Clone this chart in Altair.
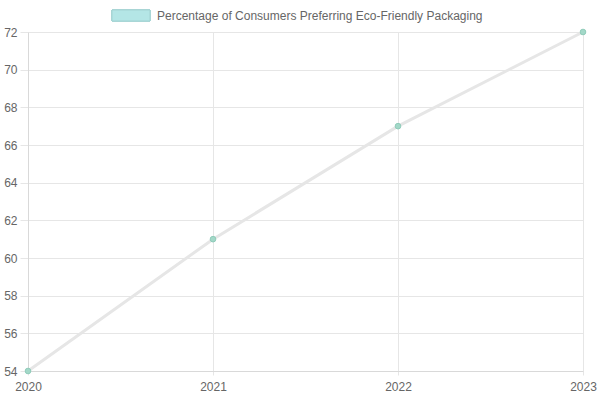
import altair as alt
import pandas as pd

years = ["2020", "2021", "2022", "2023"]
share = [54, 61, 67, 72]
series_name = "Percentage of Consumers Preferring Eco-Friendly Packaging"
y_ticks = [54, 56, 58, 60, 62, 64, 66, 68, 70, 72]

df = pd.DataFrame({"year": years, "share": share})

FONT = "Liberation Sans"
W, H = 555, 339

x_enc = alt.X(
    "year:O",
    scale=alt.Scale(type="point", padding=0),
    axis=alt.Axis(
        title=None, labelAngle=0, labelFont=FONT, labelFontSize=12, labelColor="#666",
        grid=True, gridColor="#e6e6e6", ticks=True, tickColor="#e6e6e6", tickSize=4,
        labelPadding=6, domainColor="#d9d9d9", labelOverlap=False, labelFlush=False,
    ),
)
y_enc = alt.Y(
    "share:Q",
    scale=alt.Scale(domain=[54, 72], nice=False, zero=False),
    axis=alt.Axis(
        title=None, values=y_ticks, labelFont=FONT, labelFontSize=12,
        labelColor="#666", grid=True, gridColor="#e6e6e6", ticks=True,
        tickColor="#e6e6e6", tickSize=8, labelPadding=3, domainColor="#d9d9d9",
        labelOverlap=False, labelFlush=False, labelBound=False,
    ),
)

base = alt.Chart(df).encode(x=x_enc, y=y_enc)
line = base.mark_line(color="#e6e6e6", strokeWidth=3)
points = base.mark_point(
    filled=True, size=32, color="#a3d8c8", opacity=1, stroke="#90ccba", strokeWidth=1
)

legend_box = alt.Chart(df).mark_rect(
    fill="#b4e6e6", stroke="#a3d3d3", strokeWidth=1, clip=False
).encode(
    x=alt.value(84), x2=alt.value(122), y=alt.value(-22), y2=alt.value(-11)
)
legend_text = alt.Chart(pd.DataFrame({"t": [series_name]})).mark_text(
    font=FONT, fontSize=12, color="#666", align="left", baseline="middle", clip=False
).encode(x=alt.value(129), y=alt.value(-16), text="t:N")

chart = alt.layer(line, points, legend_box, legend_text).properties(
    width=W, height=H,
    autosize=alt.AutoSizeParams(type="none"),
    padding={"left": 28, "top": 32, "right": 17, "bottom": 29},
).configure_view(stroke=None)

chart.save("out.html", embed_options={"renderer": "svg", "actions": False})
